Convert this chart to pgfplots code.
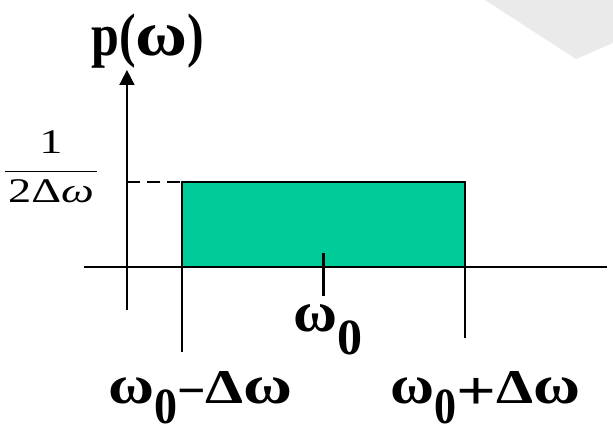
\documentclass[border=0pt]{standalone}
\usepackage{fontspec}
\setmainfont{Liberation Serif}
\usepackage{pgfplots}
\pgfplotsset{compat=1.18}
\usetikzlibrary{arrows.meta}
\definecolor{bandfill}{HTML}{00CC99}
\definecolor{shade}{HTML}{EAEAEA}
% glyph helpers for the large bold labels
\newcommand\om[2]{\resizebox{#1}{#2}{ω}}
\newcommand\zero[3]{\raisebox{-#3}{\resizebox{#1}{#2}{0}}}
\newcommand\minus{\raisebox{-4.5pt}{−}}
\newcommand\plus{\raisebox{-6.5pt}{\scalebox{1.4}[1.1]{+}}}
\newcommand\lbl{\fontsize{50}{60}\selectfont\bfseries}
\begin{document}
\begin{tikzpicture}
\begin{axis}[
  scale only axis, width=613pt, height=432pt,
  xmin=-2.2862, xmax=2.0459, ymin=-0.9706, ymax=1.5706,
  hide axis, clip=false,
]
\path (rel axis cs:0,0) rectangle (rel axis cs:1,1);
% light background shape in the corner
\addplot[fill=shade, draw=none] coordinates {(1.141,1.5706) (1.784,1.2235) (2.0459,1.3176) (2.0459,1.5706)} -- cycle;
% axes
\addplot[line width=1.6pt, -{Triangle[length=15pt,width=15pt]}] coordinates {(-1.389,-0.253) (-1.389,1.159)};
\addplot[line width=1.8pt] coordinates {(-1.693,0) (2.004,0)};
% uniform density p(omega) = 1/(2 Delta omega) on [omega0 - Delta omega, omega0 + Delta omega]
\addplot[fill=bandfill, draw=black, line width=2.2pt] coordinates {(-1,0) (-1,0.5) (1,0.5) (1,0)} -- cycle;
% level guide
\addplot[line width=1.6pt, dash pattern=on 13pt off 7pt] coordinates {(-1.389,0.5) (-1,0.5)};
% drop lines and centre tick
\addplot[line width=1.5pt] coordinates {(-1,0) (-1,-0.5)};
\addplot[line width=1.5pt] coordinates {(1,0) (1,-0.418)};
\addplot[line width=2.6pt] coordinates {(0,0.082) (0,-0.171)};
% labels
\node[anchor=base west, inner sep=0pt, font=\lbl] at (axis cs:-1.643,1.247)
  {\scalebox{1}[1.2]{p(}\om{52pt}{30pt}\scalebox{1}[1.2]{)}};
\node[anchor=base west, inner sep=0pt, font=\lbl] at (axis cs:-0.2134,-0.382)
  {\om{44pt}{27pt}\zero{25pt}{33.7pt}{23pt}};
\node[anchor=base west, inner sep=0pt, font=\lbl] at (axis cs:-1.521,-0.8)
  {\om{46pt}{25.8pt}\zero{23pt}{33.7pt}{20pt}\minus\resizebox{38pt}{32pt}{Δ}\om{49pt}{25.8pt}};
\node[anchor=base west, inner sep=0pt, font=\lbl] at (axis cs:0.472,-0.8)
  {\om{44pt}{25.8pt}\zero{22pt}{33.7pt}{20pt}\plus\resizebox{37pt}{32pt}{Δ}\om{47pt}{25.8pt}};
\node[anchor=base, inner sep=0pt, font=\fontsize{32}{36}\selectfont] at (axis cs:-1.926,0.521)
  {\scalebox{1.45}[1.08]{$\displaystyle\frac{\raisebox{6pt}{\hbox{1}}}{\raisebox{-5pt}{\hbox{\kern2pt 2Δ\itshape ω\kern2pt}}}$}};
\end{axis}
\end{tikzpicture}
\end{document}
